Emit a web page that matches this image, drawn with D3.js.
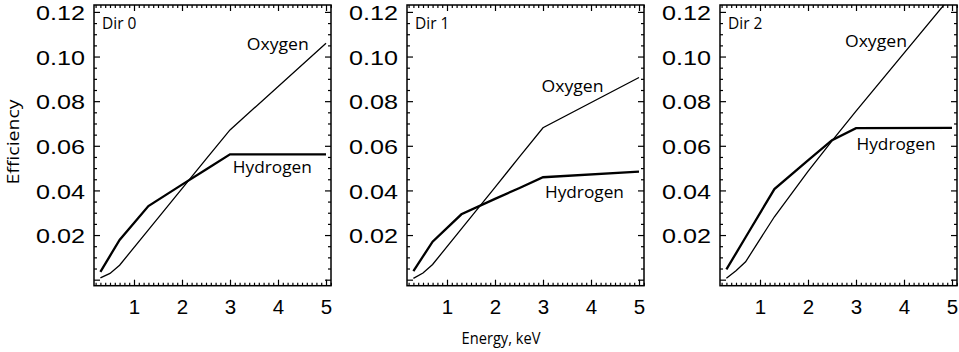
<!DOCTYPE html>
<html>
<head>
<meta charset="utf-8">
<script src="https://cdn.jsdelivr.net/npm/d3@7"></script>
<style>
  html, body { margin: 0; padding: 0; background: #fff; }
  svg { display: block; }
  .tick line { stroke: #000; stroke-width: 1.2; }
  .num { font-family: "Liberation Sans", Arial, sans-serif; font-size: 20.5px; fill: #000; }
  .lab { font-family: "Open Sans", "DejaVu Sans", sans-serif; fill: #000; }
</style>
</head>
<body>
<svg width="959" height="352"></svg>
<script>
// energy grid (keV) shared by every curve
var energies = [0.3, 0.5, 0.7, 1.3, 2.0, 2.5, 3.0, 5.0];

// efficiency per direction
var hydrogen0 = [0.0035, 0.0107, 0.0178, 0.033, 0.0426, 0.0494, 0.0562, 0.0562];
var oxygen0   = [0.0008, 0.0028, 0.0065, 0.0223, 0.0408, 0.054, 0.0671, 0.106];
var hydrogen1 = [0.0038, 0.0104, 0.017, 0.0293, 0.0362, 0.041, 0.0459, 0.0484];
var oxygen1   = [0.0006, 0.003, 0.0068, 0.0228, 0.0414, 0.0548, 0.0681, 0.0906];
var hydrogen2 = [0.0046, 0.0118, 0.019, 0.0406, 0.0535, 0.0625, 0.0679, 0.068];
var oxygen2   = [0.0006, 0.004, 0.008, 0.0282, 0.0485, 0.0622, 0.0755, 0.1275];

var panelNames = ["Dir 0", "Dir 1", "Dir 2"];
var xTicks = [1, 2, 3, 4, 5];
var yTicks = [0.02, 0.04, 0.06, 0.08, 0.10, 0.12];

var panels = [
    { name: panelNames[0], h: hydrogen0, o: oxygen0, left: 94,
      oLab: [3.35, 0.103], hLab: [3.06, 0.0478] },
    { name: panelNames[1], h: hydrogen1, o: oxygen1, left: 407,
      oLab: [2.97, 0.0843], hLab: [3.04, 0.0365] },
    { name: panelNames[2], h: hydrogen2, o: oxygen2, left: 720,
      oLab: [2.77, 0.1044], hLab: [3.01, 0.0581] }
];

var plotTop = 5, width = 237, height = 280.7;
var svg = d3.select("svg");

// minor tick positions
var xMinor = d3.range(2, 52).map(d => d / 10).filter(d => d % 1 !== 0);
var yMinor = d3.range(0, 25).map(d => d * 0.005).filter(d => Math.round(d * 1000) % 20 !== 0);

panels.forEach(function (p, i) {
    var x = d3.scaleLinear().domain([0.1667, 5.104]).range([0, width]);
    var y = d3.scaleLinear().domain([-0.0027, 0.1231]).range([height, 0]);

    var g = svg.append("g").attr("transform", "translate(" + p.left + "," + plotTop + ")");

    g.append("clipPath").attr("id", "clip" + i)
        .append("rect").attr("width", width).attr("height", height);

    // ticks on all four sides, pointing inward
    function ticks(axis, vals, size, tr) {
        var a = g.append("g").attr("transform", tr || null)
            .call(axis.tickValues(vals).tickSizeInner(-size).tickSizeOuter(0).tickFormat(""));
        a.select(".domain").remove();
        return a;
    }
    ticks(d3.axisBottom(x), xMinor, 3, "translate(0," + height + ")");
    ticks(d3.axisTop(x), xMinor, 3);
    ticks(d3.axisBottom(x), xTicks, 6, "translate(0," + height + ")");
    ticks(d3.axisTop(x), xTicks, 6);
    ticks(d3.axisLeft(y), yMinor, 3);
    ticks(d3.axisRight(y), yMinor, 3, "translate(" + width + ",0)");
    ticks(d3.axisLeft(y), [0].concat(yTicks), 6);
    ticks(d3.axisRight(y), [0].concat(yTicks), 6, "translate(" + width + ",0)");

    // tick labels
    var xa = g.append("g").attr("transform", "translate(0," + height + ")")
        .call(d3.axisBottom(x).tickValues(xTicks).tickSize(0).tickPadding(14).tickFormat(d3.format("d")));
    xa.select(".domain").remove();
    xa.selectAll("text").attr("class", "num");
    xa.attr("font-family", null).attr("font-size", null);

    var ya = g.append("g")
        .call(d3.axisLeft(y).tickValues(yTicks).tickSize(0).tickPadding(9).tickFormat(d3.format(".2f")));
    ya.select(".domain").remove();
    ya.attr("font-family", null).attr("font-size", null);
    ya.selectAll("text").attr("class", "num").attr("dy", "0.38em")
        .attr("textLength", 49).attr("lengthAdjust", "spacingAndGlyphs");

    // curves
    var line = d3.line().x(d => x(d[0])).y(d => y(d[1]));
    var lines = g.append("g").attr("clip-path", "url(#clip" + i + ")");
    lines.append("path").datum(d3.zip(energies, p.o))
        .attr("d", line).attr("fill", "none").attr("stroke", "#000").attr("stroke-width", 1.3);
    lines.append("path").datum(d3.zip(energies, p.h))
        .attr("d", line).attr("fill", "none").attr("stroke", "#000").attr("stroke-width", 2.3);

    // frame
    g.append("rect").attr("width", width).attr("height", height)
        .attr("fill", "none").attr("stroke", "#000").attr("stroke-width", 1.5);

    g.append("text").attr("class", "lab").attr("x", 8).attr("y", 23.5)
        .attr("font-size", 15.5).text(p.name);
    g.append("text").attr("class", "lab").attr("x", x(p.oLab[0])).attr("y", y(p.oLab[1]))
        .attr("font-size", 16.5).attr("textLength", 62).attr("lengthAdjust", "spacingAndGlyphs")
        .text("Oxygen");
    g.append("text").attr("class", "lab").attr("x", x(p.hLab[0])).attr("y", y(p.hLab[1]))
        .attr("font-size", 16.5).attr("textLength", 79).attr("lengthAdjust", "spacingAndGlyphs")
        .text("Hydrogen");
});

svg.append("text").attr("class", "lab")
    .attr("transform", "translate(19,142) rotate(-90)")
    .attr("text-anchor", "middle").attr("font-size", 16.5)
    .attr("textLength", 85).attr("lengthAdjust", "spacingAndGlyphs")
    .text("Efficiency");

svg.append("text").attr("class", "lab")
    .attr("x", 501).attr("y", 343.5).attr("text-anchor", "middle")
    .attr("font-size", 16.5).attr("textLength", 79).attr("lengthAdjust", "spacingAndGlyphs")
    .text("Energy, keV");
</script>
</body>
</html>
